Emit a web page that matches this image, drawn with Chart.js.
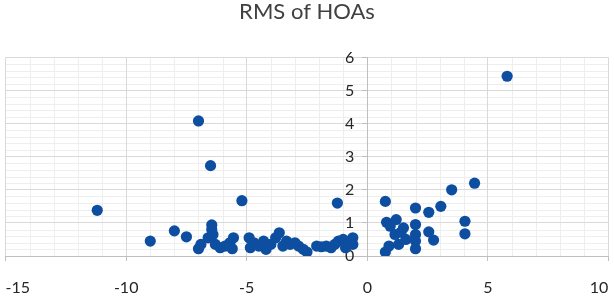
<!DOCTYPE html>
<html lang="en">

<head>
    <meta charset="UTF-8">
    <title>RMS of HOAs</title>
    <script src="https://cdn.jsdelivr.net/npm/chart.js"></script>
    <style>
        body {
            margin: 0;
            background: #ffffff;
        }

        #chartBox {
            width: 614px;
            height: 296px;
        }
    </style>
</head>

<body>
    <div id="chartBox"><canvas id="rmsChart" width="614" height="296"></canvas></div>

    <script>
        // Values
        const chartTitle = "RMS of HOAs";
        const xValues = [
            -11.2, -9.0, -8.0, -7.5, -7.0, -6.5, -6.45, -6.45, -7.0, -6.9,
            -6.6, -6.4, -6.3, -6.1, -5.9, -5.7, -5.55, -5.6, -5.2, -4.9,
            -4.85, -4.7, -4.5, -4.3, -4.2, -4.0, -3.8, -3.65, -3.5, -3.35,
            -3.2, -3.0, -2.85, -2.65, -2.5, -2.1, -1.9, -1.7, -1.5, -1.35,
            -1.2, -1.0, -0.9, -0.75, -0.6, -0.6, -1.24,
            0.75, 0.8, 0.95, 0.75, 0.9, 1.2, 1.15, 1.4, 1.3, 1.6,
            1.5, 2.0, 2.0, 2.0, 2.0, 2.0, 2.55, 2.55, 2.75, 3.05,
            3.5, 4.45, 4.05, 4.05, 5.8
        ];
        const yValues = [
            1.38, 0.45, 0.76, 0.58, 4.08, 2.73, 0.94, 0.8, 0.22, 0.35,
            0.55, 0.65, 0.35, 0.25, 0.3, 0.4, 0.55, 0.22, 1.67, 0.55,
            0.25, 0.4, 0.3, 0.45, 0.2, 0.35, 0.55, 0.7, 0.3, 0.45,
            0.35, 0.4, 0.3, 0.2, 0.12, 0.3, 0.28, 0.3, 0.25, 0.35,
            0.45, 0.5, 0.25, 0.4, 0.55, 0.35, 1.6,
            1.65, 1.02, 0.9, 0.12, 0.3, 1.1, 0.65, 0.72, 0.35, 0.5,
            0.85, 1.45, 0.95, 0.65, 0.45, 0.22, 1.32, 0.73, 0.48, 1.5,
            2.0, 2.2, 1.05, 0.67, 5.43
        ];
        const xRange = [-15, 10];
        const yRange = [0, 6];

        const points = xValues.map((x, i) => ({ x: x, y: yValues[i] }));

        // light minor gridlines, drawn under the major ones
        const minorGrid = {
            id: "minorGrid",
            beforeDraw(chart) {
                const { ctx, chartArea: a, scales: { x, y } } = chart;
                ctx.save();
                ctx.strokeStyle = "#eeeeee";
                ctx.lineWidth = 1;
                ctx.beginPath();
                for (let v = xRange[0] + 1; v < xRange[1]; v++) {
                    if (v % 5 === 0) continue;
                    const px = Math.round(x.getPixelForValue(v)) + 0.5;
                    ctx.moveTo(px, a.top);
                    ctx.lineTo(px, a.bottom);
                }
                for (let k = 1; k < 30; k++) {
                    if (k % 5 === 0) continue;
                    const py = Math.round(y.getPixelForValue(k * 0.2)) + 0.5;
                    ctx.moveTo(a.left, py);
                    ctx.lineTo(a.right, py);
                }
                ctx.stroke();
                ctx.restore();
            }
        };

        new Chart(document.getElementById("rmsChart"), {
            type: "scatter",
            data: {
                datasets: [{
                    label: chartTitle,
                    data: points,
                    backgroundColor: "#0d4ea1",
                    borderWidth: 0,
                    pointRadius: 5.6,
                    pointHoverRadius: 5.6
                }]
            },
            options: {
                responsive: false,
                animation: false,
                layout: { padding: { left: 3, right: 3, top: 0, bottom: -19 } },
                plugins: {
                    legend: { display: false },
                    tooltip: { enabled: false },
                    title: {
                        display: true,
                        text: chartTitle,
                        color: "#404040",
                        font: { family: "Lato", size: 22, weight: "normal" },
                        padding: { top: -1.5, bottom: 32.5 }
                    }
                },
                scales: {
                    x: {
                        type: "linear",
                        min: xRange[0],
                        max: xRange[1],
                        grid: { color: "#d9d9d9", tickColor: "#bfbfbf", tickLength: 5 },
                        border: { color: "#bfbfbf" },
                        ticks: {
                            stepSize: 5,
                            align: "inner",
                            padding: 0,
                            color: "#262626",
                            // tall line box pushes the labels down like the original
                            font: { family: "Lato", size: 16, lineHeight: 3.375 }
                        }
                    },
                    y: {
                        type: "linear",
                        position: { x: 0 },
                        min: yRange[0],
                        max: yRange[1],
                        grid: { color: "#d9d9d9", tickColor: "#bfbfbf", tickLength: 5 },
                        border: { color: "#bfbfbf" },
                        ticks: {
                            stepSize: 1,
                            padding: 22,
                            color: "#262626",
                            font: { family: "Lato", size: 16 },
                            // labels of an axis placed at x = 0 sit on the line; pad them off it
                            callback: (v) => v + "\u2003\u200a"
                        }
                    }
                }
            },
            plugins: [minorGrid]
        });
    </script>
</body>

</html>
